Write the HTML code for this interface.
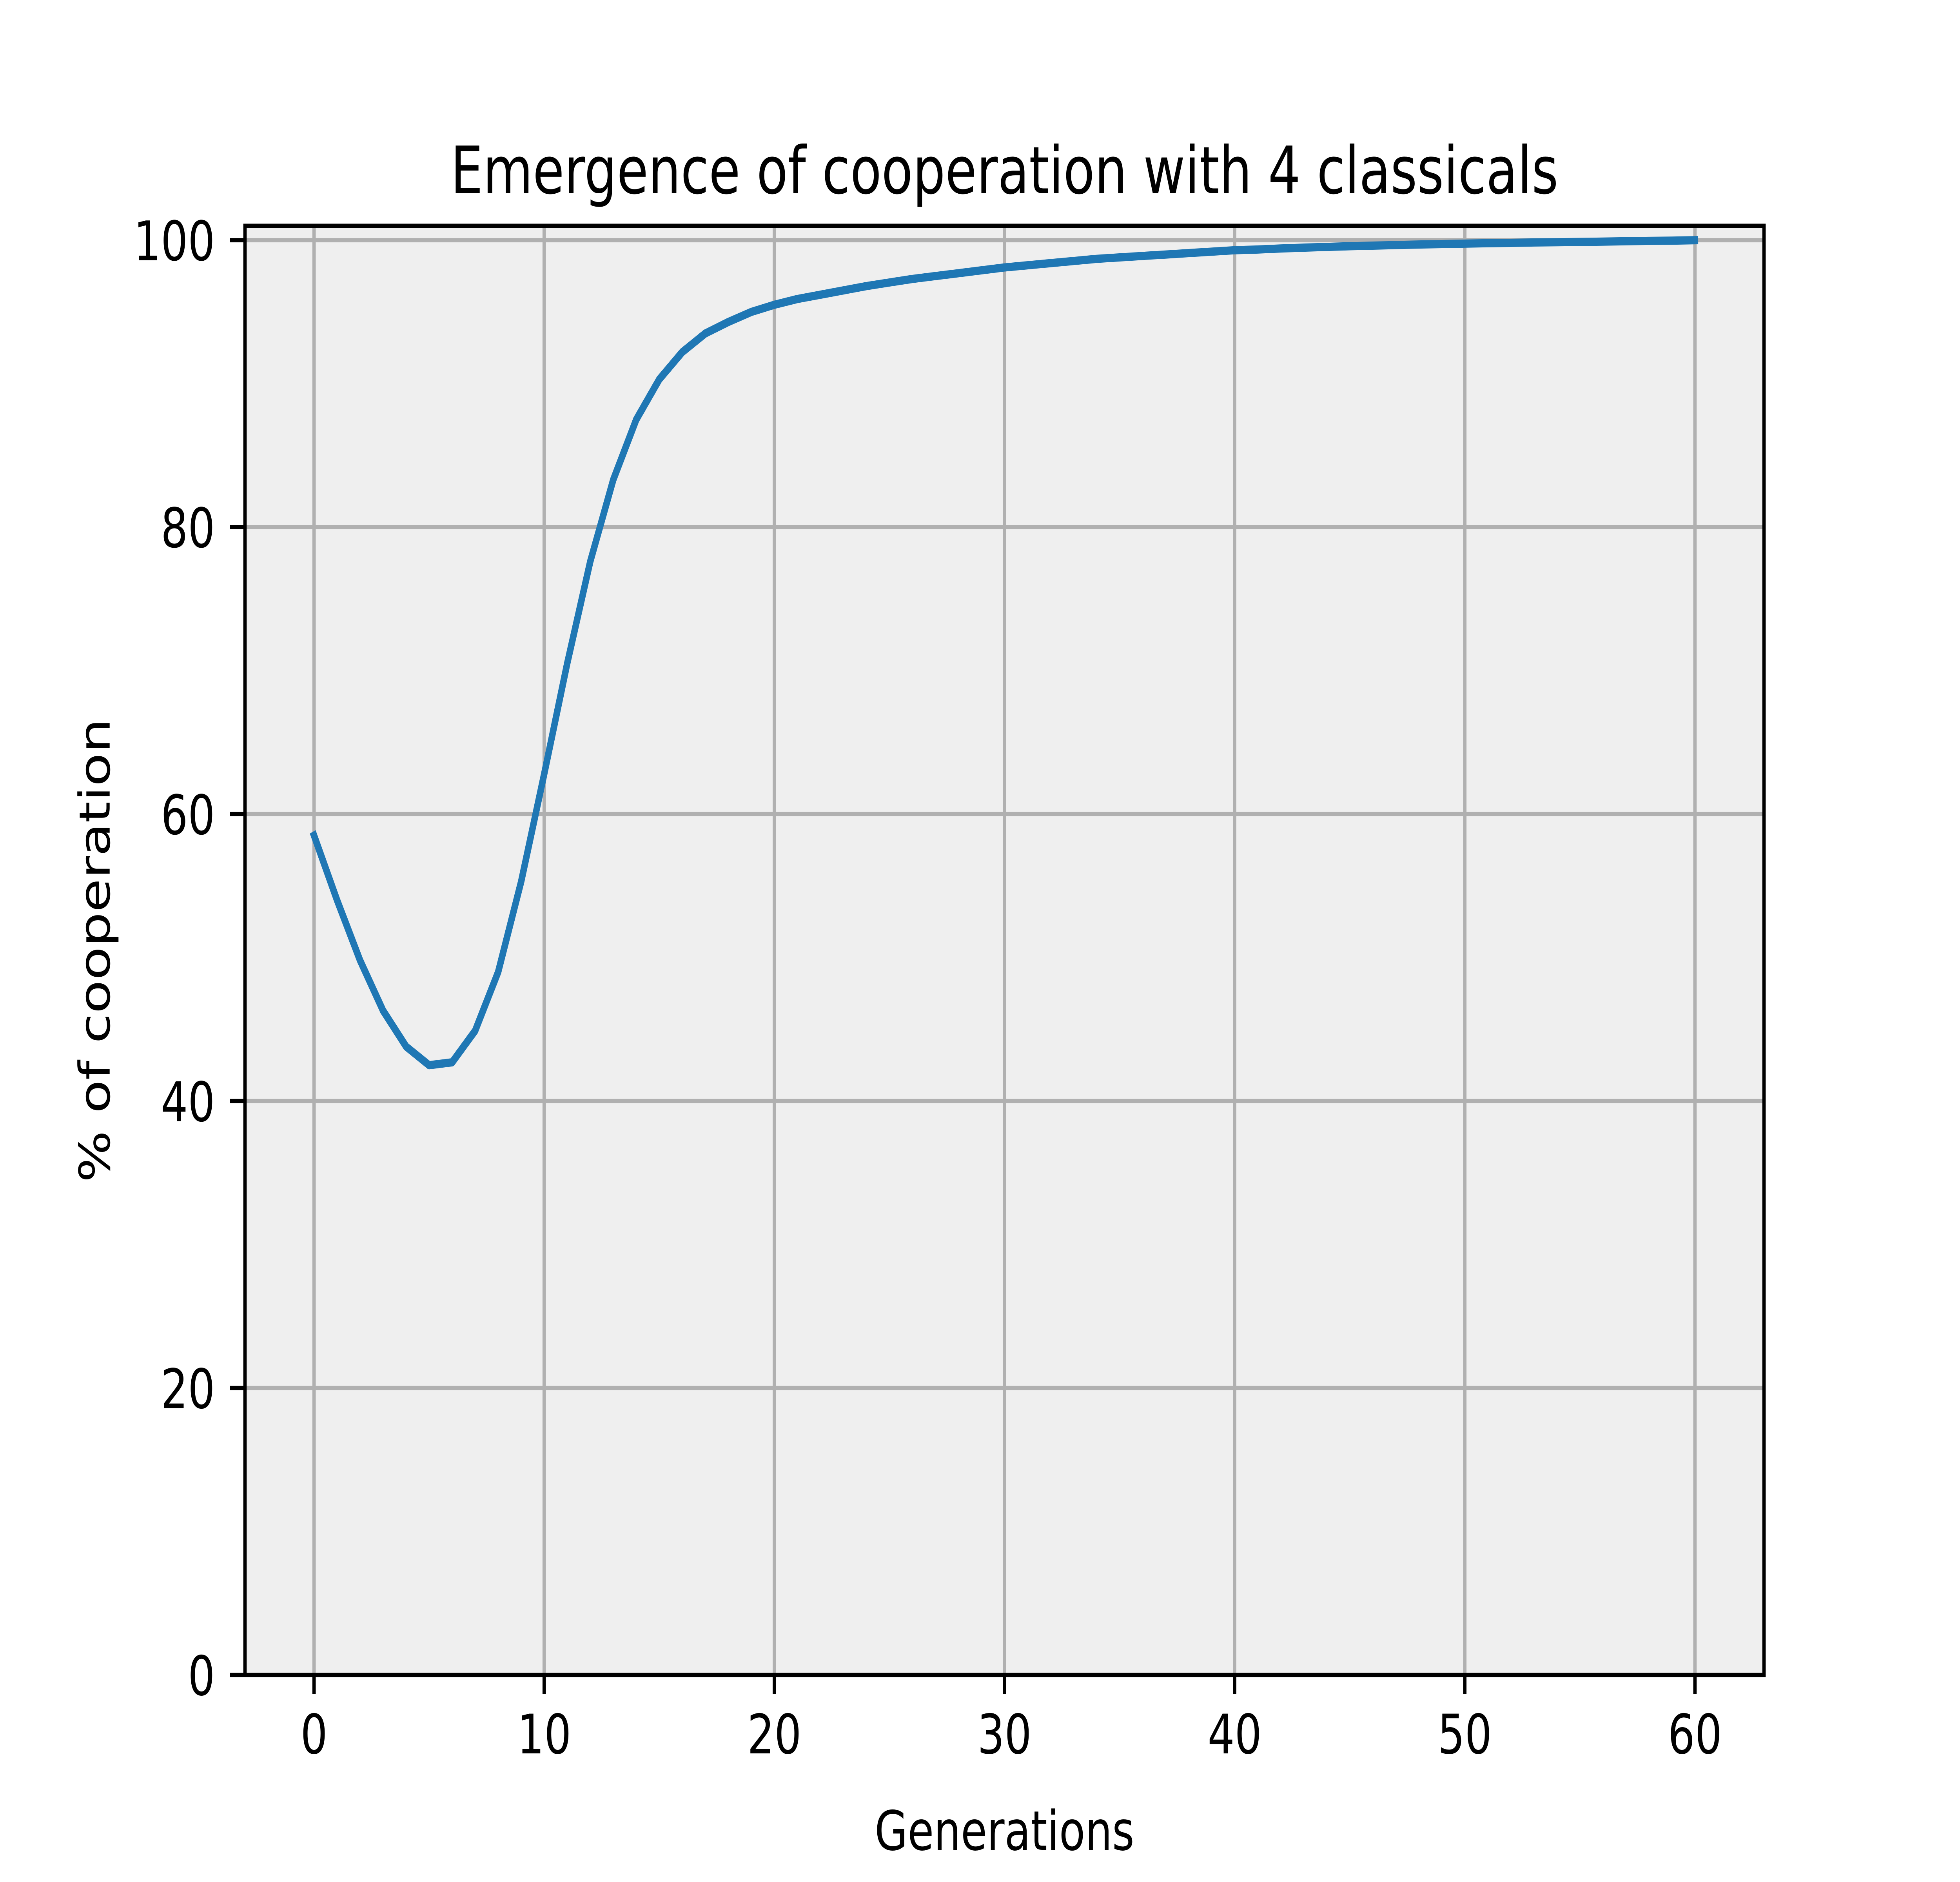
<!DOCTYPE html>
<html><head><meta charset="utf-8"><style>
html,body{margin:0;padding:0;background:#fff;width:100%;height:100%;overflow:hidden;}
svg{display:block;width:100vw;height:100vh;}
text{font-family:"DejaVu Sans","Liberation Sans",sans-serif;fill:#000;}
</style></head><body>
<svg id="chart" viewBox="0 0 6400 4800" preserveAspectRatio="none" xmlns="http://www.w3.org/2000/svg">
<rect x="0" y="0" width="6400" height="4800" fill="#ffffff"/>
<rect x="800" y="576" width="4960" height="3696" fill="#efefef"/>
<g id="grid"></g>
<g id="series"></g>
<rect x="800" y="576" width="4960" height="3696" fill="none" stroke="#000" stroke-width="11"/>
<g id="ticks"></g>
<text x="3280" y="493" font-size="167" text-anchor="middle">Emergence of cooperation with 4 classicals</text>
<text x="3280" y="4718" font-size="139" text-anchor="middle">Generations</text>
<text x="0" y="0" font-size="139" text-anchor="middle" transform="translate(358,2424) rotate(-90)">% of cooperation</text>
</svg>
<script>
const generations = [];
for (let i = 0; i <= 60; i++) generations.push(i);
const cooperation = [58.5,54,49.8,46.3,43.8,42.5,42.7,44.9,49,55.3,62.8,70.5,77.6,83.3,87.5,90.3,92.2,93.5,94.3,95,95.5,
95.9,96.2,96.5,96.8,97.05,97.3,97.5,97.7,97.9,98.1,98.25,98.4,98.55,98.7,98.8,98.9,99,99.1,99.2,99.3,
99.35,99.42,99.48,99.53,99.58,99.62,99.66,99.7,99.73,99.76,99.79,99.81,99.84,99.86,99.88,99.9,99.93,99.95,99.97,100];
const xTicks = [0,10,20,30,40,50,60];
const yTicks = [0,20,40,60,80,100];

const L=800,R=5760,T=576,B=4272, XMIN=-3,XMAX=63,YMIN=0,YMAX=101;
const xs=v=>L+(v-XMIN)/(XMAX-XMIN)*(R-L);
const ys=v=>B-(v-YMIN)/(YMAX-YMIN)*(B-T);
const NS="http://www.w3.org/2000/svg";
function mk(tag,attrs,parent){const e=document.createElementNS(NS,tag);for(const k in attrs)e.setAttribute(k,attrs[k]);parent.appendChild(e);return e;}
const grid=document.getElementById('grid'),ticks=document.getElementById('ticks'),series=document.getElementById('series');
xTicks.forEach(t=>{
  const x=xs(t);
  const g=mk('line',{x1:x,x2:x,y1:T,y2:B,stroke:'#b0b0b0','stroke-width':11},grid);
  
  
  const tk=mk('line',{x1:x,x2:x,y1:B,y2:B+49,stroke:'#000','stroke-width':11},ticks);
  
  
  const lb=mk('text',{x:x,y:B+49+49+102,'font-size':139,'text-anchor':'middle'},ticks);
  lb.textContent=t;
  
  
});
yTicks.forEach(t=>{
  const y=ys(t);
  const g=mk('line',{x1:L,x2:R,y1:y,y2:y,stroke:'#b0b0b0','stroke-width':11},grid);
  
  
  const tk=mk('line',{x1:L-49,x2:L,y1:y,y2:y,stroke:'#000','stroke-width':11},ticks);
  
  
  const lb=mk('text',{x:L-49-49,y:y+51,'font-size':139,'text-anchor':'end'},ticks);
  lb.textContent=t;
  
  
});
const pts=generations.map((g,i)=>xs(g).toFixed(1)+','+ys(cooperation[i]).toFixed(1)).join(' ');
const line=mk('polyline',{points:pts,fill:'none',stroke:'#1f77b4','stroke-width':21,'stroke-linejoin':'round','stroke-linecap':'square'},series);


</script>
</body></html>
